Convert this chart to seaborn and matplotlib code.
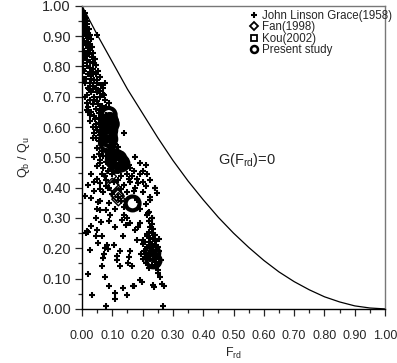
"""Scatter of Qb/Qu against Frd with the G(Frd)=0 limit curve."""
import matplotlib
matplotlib.use("Agg")
import matplotlib.pyplot as plt
import seaborn as sns
import pandas as pd
from matplotlib.lines import Line2D

# John Linson Grace (1958)
grace_x = [
    0.000, 0.005, 0.010, 0.005, 0.012, 0.008, 0.015, 0.003, 0.010, 0.018, 0.006, 0.014, 0.022, 0.002,
    0.010, 0.018, 0.026, 0.005, 0.013, 0.021, 0.030, 0.008, 0.017, 0.025, 0.003, 0.012, 0.032, 0.020,
    0.028, 0.006, 0.015, 0.036, 0.024, 0.010, 0.032, 0.042, 0.018, 0.028, 0.005, 0.038, 0.047, 0.015,
    0.025, 0.035, 0.052, 0.008, 0.020, 0.045, 0.030, 0.058, 0.012, 0.040, 0.025, 0.050, 0.062, 0.003,
    0.004, 0.046, 0.055, 0.070, 0.035, 0.050,
    0.020, 0.030, 0.015, 0.040, 0.060, 0.025, 0.050, 0.075, 0.035, 0.065, 0.020, 0.045, 0.080, 0.030,
    0.055, 0.070, 0.040, 0.060, 0.025, 0.045, 0.035, 0.065, 0.050, 0.040, 0.060, 0.100, 0.140, 0.045,
    0.055, 0.075, 0.065, 0.110, 0.050, 0.080, 0.095, 0.120, 0.010, 0.030, 0.015, 0.070, 0.090,
    0.040, 0.055, 0.070, 0.090, 0.060, 0.080, 0.100, 0.050, 0.070, 0.085, 0.140, 0.160, 0.175, 0.190,
    0.210, 0.200, 0.215, 0.190, 0.180, 0.150, 0.130, 0.170, 0.065, 0.030, 0.050, 0.080, 0.120, 0.160,
    0.200, 0.225, 0.140, 0.060, 0.090, 0.130, 0.175, 0.210, 0.240, 0.246, 0.020, 0.040, 0.070, 0.150,
    0.200, 0.225, 0.010, 0.030, 0.060, 0.090, 0.130, 0.180, 0.210, 0.225, 0.050, 0.080, 0.110, 0.140,
    0.190, 0.220, 0.230, 0.215,
    0.013, 0.017, 0.020, 0.029, 0.026, 0.021, 0.034, 0.046, 0.048, 0.054, 0.054, 0.059, 0.062, 0.065,
    0.068, 0.072, 0.076, 0.079, 0.079, 0.084, 0.087, 0.090, 0.092, 0.109, 0.109, 0.114, 0.116, 0.125,
    0.131, 0.136, 0.140, 0.145, 0.147, 0.151, 0.154, 0.158, 0.164, 0.167, 0.170, 0.175, 0.180, 0.190,
    0.192, 0.197, 0.200, 0.205, 0.213, 0.219, 0.225, 0.230, 0.235, 0.237, 0.246, 0.252, 0.258, 0.264,
    0.270, 0.266, 0.240,
    0.220, 0.230, 0.225, 0.235, 0.220, 0.230, 0.240, 0.215, 0.225, 0.235, 0.245, 0.220, 0.230, 0.240,
    0.215, 0.225, 0.235, 0.245, 0.250, 0.220, 0.230, 0.240, 0.250, 0.215, 0.225, 0.235, 0.245, 0.230,
    0.240, 0.220, 0.250, 0.255, 0.205, 0.200, 0.210, 0.260, 0.200, 0.255,
    0.060, 0.075, 0.105, 0.070, 0.110, 0.065, 0.100, 0.080, 0.115, 0.060, 0.095, 0.130, 0.145, 0.155,
    0.165, 0.135, 0.100, 0.075, 0.120, 0.155, 0.185, 0.105, 0.085, 0.060, 0.040, 0.100, 0.120, 0.170,
    0.045, 0.090, 0.110, 0.150, 0.185, 0.065, 0.135, 0.075, 0.105, 0.160, 0.195, 0.125,
    0.010, 0.022, 0.035, 0.048, 0.060, 0.072, 0.015, 0.028, 0.042, 0.055, 0.068, 0.008, 0.032, 0.050,
    0.075, 0.020, 0.045, 0.062, 0.038, 0.055, 0.066, 0.078, 0.052, 0.040,
]
grace_y = [
    1.000, 0.980, 0.975, 0.965, 0.960, 0.955, 0.950, 0.945, 0.940, 0.940, 0.930, 0.930, 0.925, 0.920,
    0.915, 0.910, 0.905, 0.900, 0.900, 0.895, 0.890, 0.885, 0.880, 0.875, 0.870, 0.870, 0.865, 0.860,
    0.855, 0.850, 0.845, 0.845, 0.840, 0.835, 0.830, 0.825, 0.820, 0.815, 0.810, 0.810, 0.805, 0.800,
    0.795, 0.790, 0.785, 0.785, 0.775, 0.775, 0.770, 0.765, 0.760, 0.755, 0.745, 0.745, 0.740, 0.790,
    0.830, 0.730, 0.720, 0.730, 0.725, 0.905,
    0.730, 0.715, 0.705, 0.700, 0.700, 0.690, 0.685, 0.690, 0.675, 0.670, 0.665, 0.660, 0.665, 0.650,
    0.645, 0.640, 0.635, 0.625, 0.620, 0.610, 0.600, 0.600, 0.590, 0.580, 0.575, 0.575, 0.580, 0.565,
    0.555, 0.550, 0.540, 0.545, 0.530, 0.520, 0.530, 0.535, 0.700, 0.760, 0.680, 0.710, 0.680,
    0.500, 0.510, 0.505, 0.515, 0.490, 0.485, 0.470, 0.470, 0.465, 0.455, 0.470, 0.465, 0.500, 0.480,
    0.475, 0.455, 0.445, 0.445, 0.430, 0.445, 0.440, 0.455, 0.445, 0.445, 0.430, 0.425, 0.425, 0.420,
    0.420, 0.425, 0.410, 0.415, 0.400, 0.395, 0.400, 0.405, 0.400, 0.383, 0.410, 0.390, 0.385, 0.385,
    0.385, 0.370, 0.373, 0.365, 0.355, 0.350, 0.355, 0.360, 0.345, 0.360, 0.330, 0.325, 0.330, 0.335,
    0.330, 0.320, 0.300, 0.310,
    0.252, 0.258, 0.255, 0.272, 0.193, 0.115, 0.046, 0.239, 0.260, 0.217, 0.354, 0.327, 0.288, 0.140,
    0.169, 0.180, 0.106, 0.404, 0.008, 0.211, 0.198, 0.074, 0.310, 0.052, 0.032, 0.173, 0.160, 0.140,
    0.294, 0.068, 0.310, 0.277, 0.046, 0.151, 0.170, 0.283, 0.142, 0.074, 0.077, 0.261, 0.228, 0.283,
    0.096, 0.090, 0.228, 0.222, 0.248, 0.316, 0.360, 0.300, 0.079, 0.072, 0.140, 0.117, 0.106, 0.082,
    0.077, 0.008, 0.400,
    0.290, 0.280, 0.270, 0.265, 0.255, 0.250, 0.245, 0.240, 0.235, 0.230, 0.225, 0.220, 0.215, 0.210,
    0.205, 0.200, 0.195, 0.190, 0.205, 0.185, 0.180, 0.175, 0.170, 0.170, 0.165, 0.160, 0.155, 0.145,
    0.140, 0.135, 0.130, 0.190, 0.190, 0.165, 0.150, 0.160, 0.215, 0.230,
    0.655, 0.625, 0.605, 0.560, 0.585, 0.520, 0.545, 0.505, 0.520, 0.480, 0.490, 0.505, 0.490, 0.475,
    0.440, 0.460, 0.445, 0.440, 0.455, 0.430, 0.415, 0.420, 0.400, 0.395, 0.420, 0.380, 0.370, 0.390,
    0.300, 0.290, 0.270, 0.300, 0.270, 0.240, 0.240, 0.200, 0.210, 0.190, 0.180, 0.190,
    0.745, 0.725, 0.735, 0.715, 0.720, 0.705, 0.655, 0.640, 0.625, 0.615, 0.595, 0.760, 0.780, 0.755,
    0.745, 0.650, 0.600, 0.555, 0.565, 0.630, 0.655, 0.640, 0.675, 0.690,
]

# Fan (1998)
fan_x = [0.100, 0.103, 0.115, 0.118, 0.120, 0.092, 0.070]
fan_y = [0.410, 0.404, 0.378, 0.372, 0.362, 0.437, 0.535]

# Kou (2002)
kou_x = [0.080, 0.120, 0.230]
kou_y = [0.580, 0.480, 0.180]

# Present study
present_x = [0.088, 0.092, 0.086, 0.090, 0.088, 0.090, 0.085, 0.095, 0.082,
             0.110, 0.120, 0.125, 0.115, 0.130, 0.105,
             0.167, 0.232, 0.236]
present_y = [0.640, 0.620, 0.605, 0.590, 0.575, 0.560, 0.545, 0.610, 0.580,
             0.500, 0.495, 0.485, 0.475, 0.480, 0.490,
             0.348, 0.185, 0.160]

# G(Frd)=0 limit curve
curve_x = [0.00, 0.05, 0.10, 0.15, 0.20, 0.25, 0.30, 0.35, 0.40, 0.45, 0.50,
           0.55, 0.60, 0.65, 0.70, 0.75, 0.80, 0.85, 0.90, 0.95, 1.00]
curve_y = [1.000, 0.905, 0.815, 0.725, 0.645, 0.565, 0.490, 0.422, 0.360, 0.302, 0.250,
           0.203, 0.160, 0.122, 0.090, 0.063, 0.040, 0.023, 0.010, 0.003, 0.000]


def main():
    sns.set_style("ticks")
    plt.rcParams["font.family"] = ["Liberation Sans", "DejaVu Sans"]
    plt.rcParams["mathtext.default"] = "regular"

    fig = plt.figure(figsize=(3.97, 3.63), dpi=100)
    ax = fig.add_axes([0.2065, 0.149, 0.7635, 0.835])

    sns.lineplot(x=curve_x, y=curve_y, ax=ax, color="black", lw=0.9, sort=False)

    df_grace = pd.DataFrame({"x": grace_x, "y": grace_y})
    sns.scatterplot(data=df_grace, x="x", y="y", ax=ax, marker="+", s=16,
                    color="black", linewidth=1.5)

    df_present = pd.DataFrame({"x": present_x, "y": present_y})
    sns.scatterplot(data=df_present, x="x", y="y", ax=ax, marker="o", s=100,
                    facecolor="none", edgecolor="black", linewidth=3.0)

    df_fan = pd.DataFrame({"x": fan_x, "y": fan_y})
    sns.scatterplot(data=df_fan, x="x", y="y", ax=ax, marker="D", s=45,
                    facecolor="none", edgecolor="black", linewidth=1.0)

    df_kou = pd.DataFrame({"x": kou_x, "y": kou_y})
    sns.scatterplot(data=df_kou, x="x", y="y", ax=ax, marker="s", s=22,
                    facecolor="none", edgecolor="black", linewidth=1.0)

    ax.text(0.45, 0.49, "G(F$_{rd}$)=0", fontsize=10.5, ha="left", va="center")

    ax.set_xlim(0, 1)
    ax.set_ylim(0, 1)
    ax.set_xticks([i / 10 for i in range(11)])
    ax.set_yticks([i / 10 for i in range(11)])
    ax.set_xticks([i / 20 for i in range(21)], minor=True)
    ax.set_yticks([i / 20 for i in range(21)], minor=True)
    ax.set_xticklabels([f"{i / 10:.2f}" for i in range(11)])
    ax.set_yticklabels([f"{i / 10:.2f}" for i in range(11)])
    ax.tick_params(which="major", length=5, width=0.9, direction="out")
    ax.tick_params(which="minor", length=3, width=0.9, direction="out")
    ax.tick_params(axis="x", labelsize=9, pad=10)
    ax.tick_params(axis="y", labelsize=10.5, pad=3)

    for side in ["left", "bottom"]:
        ax.spines[side].set_color("black")
        ax.spines[side].set_linewidth(1.0)
    for side in ["top", "right"]:
        ax.spines[side].set_visible(True)
        ax.spines[side].set_color("#777777")
        ax.spines[side].set_linewidth(1.0)

    ax.set_xlabel("F$_{rd}$", fontsize=9, labelpad=3)
    ax.set_ylabel("Q$_b$ / Q$_u$", fontsize=9, labelpad=7)

    handles = [
        Line2D([], [], ls="none", marker="+", ms=5, mew=1.5, color="black"),
        Line2D([], [], ls="none", marker="D", ms=3.8, mew=1.3, mfc="none", color="black"),
        Line2D([], [], ls="none", marker="s", ms=5, mew=1.3, mfc="none", color="black"),
        Line2D([], [], ls="none", marker="o", ms=5, mew=1.8, mfc="none", color="black"),
    ]
    labels = ["John Linson Grace(1958)", "Fan(1998)", "Kou(2002)", "Present study"]
    ax.legend(handles, labels, loc="upper left", bbox_to_anchor=(0.537, 1.0),
              frameon=False, fontsize=8.3, handlelength=0.8, handletextpad=0.3,
              labelspacing=-0.08, borderaxespad=0.0)

    fig.savefig("out.png", dpi=100)


if __name__ == "__main__":
    main()
